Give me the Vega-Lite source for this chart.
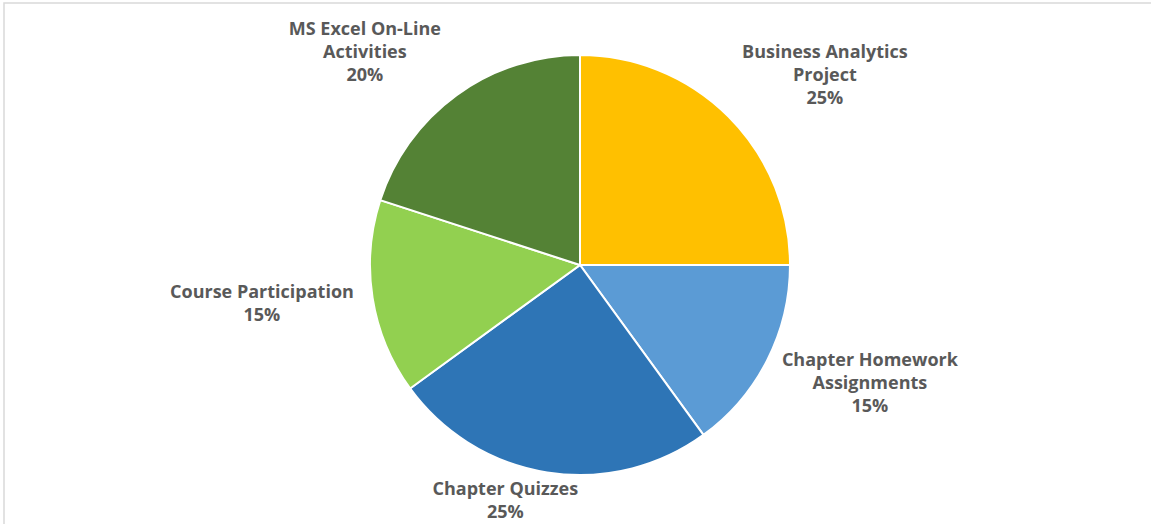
{
  "$schema": "https://vega.github.io/schema/vega-lite/v6.json",
  "autosize": {"type": "none"},
  "padding": {"left": 4, "top": 3, "right": 0, "bottom": 0},
  "width": 1152,
  "height": 524,
  "background": "white",
  "view": {"stroke": "#d9d9d9", "strokeWidth": 1.5},
  "data": {
    "values": [
      {"category": "Business Analytics Project", "value": 25, "label": "Business Analytics\nProject\n25%"},
      {"category": "Chapter Homework Assignments", "value": 15, "label": "Chapter Homework\nAssignments\n15%"},
      {"category": "Chapter Quizzes", "value": 25, "label": "Chapter Quizzes\n25%"},
      {"category": "Course Participation", "value": 15, "label": "Course Participation\n15%"},
      {"category": "MS Excel On-Line Activities", "value": 20, "label": "MS Excel On-Line\nActivities\n20%"}
    ]
  },
  "encoding": {
    "theta": {"field": "value", "type": "quantitative", "stack": true}
  },
  "layer": [
    {
      "mark": {"type": "arc", "outerRadius": 210, "stroke": "white", "strokeWidth": 2},
      "encoding": {
        "color": {
          "field": "category",
          "type": "nominal",
          "scale": {
            "domain": ["Business Analytics Project", "Chapter Homework Assignments", "Chapter Quizzes", "Course Participation", "MS Excel On-Line Activities"],
            "range": ["#FFC000", "#5B9BD5", "#2E75B6", "#92D050", "#548235"]
          },
          "legend": null
        }
      }
    },
    {
      "mark": {"type": "text", "radius": 311, "dx": 25, "dy": 8, "font": "Open Sans", "fontSize": 18, "fontWeight": "bold", "fill": "#595959", "lineBreak": "\n", "lineHeight": 23, "align": "center", "baseline": "middle"},
      "encoding": {
        "detail": {"field": "category", "type": "nominal"},
        "text": {"condition": {"test": "datum.category === 'Business Analytics Project'", "field": "label"}, "value": ""}
      }
    },
    {
      "mark": {"type": "text", "radius": 313, "dx": 11, "dy": -46, "font": "Open Sans", "fontSize": 18, "fontWeight": "bold", "fill": "#595959", "lineBreak": "\n", "lineHeight": 23, "align": "center", "baseline": "middle"},
      "encoding": {
        "detail": {"field": "category", "type": "nominal"},
        "text": {"condition": {"test": "datum.category === 'Chapter Homework Assignments'", "field": "label"}, "value": ""}
      }
    },
    {
      "mark": {"type": "text", "radius": 247, "dx": -36, "dy": -19, "font": "Open Sans", "fontSize": 18, "fontWeight": "bold", "fill": "#595959", "lineBreak": "\n", "lineHeight": 23, "align": "center", "baseline": "middle"},
      "encoding": {
        "detail": {"field": "category", "type": "nominal"},
        "text": {"condition": {"test": "datum.category === 'Chapter Quizzes'", "field": "label"}, "value": ""}
      }
    },
    {
      "mark": {"type": "text", "radius": 320, "dx": -2, "dy": -22, "font": "Open Sans", "fontSize": 18, "fontWeight": "bold", "fill": "#595959", "lineBreak": "\n", "lineHeight": 23, "align": "center", "baseline": "middle"},
      "encoding": {
        "detail": {"field": "category", "type": "nominal"},
        "text": {"condition": {"test": "datum.category === 'Course Participation'", "field": "label"}, "value": ""}
      }
    },
    {
      "mark": {"type": "text", "radius": 303, "dx": -37, "dy": 10, "font": "Open Sans", "fontSize": 18, "fontWeight": "bold", "fill": "#595959", "lineBreak": "\n", "lineHeight": 23, "align": "center", "baseline": "middle"},
      "encoding": {
        "detail": {"field": "category", "type": "nominal"},
        "text": {"condition": {"test": "datum.category === 'MS Excel On-Line Activities'", "field": "label"}, "value": ""}
      }
    }
  ]
}
